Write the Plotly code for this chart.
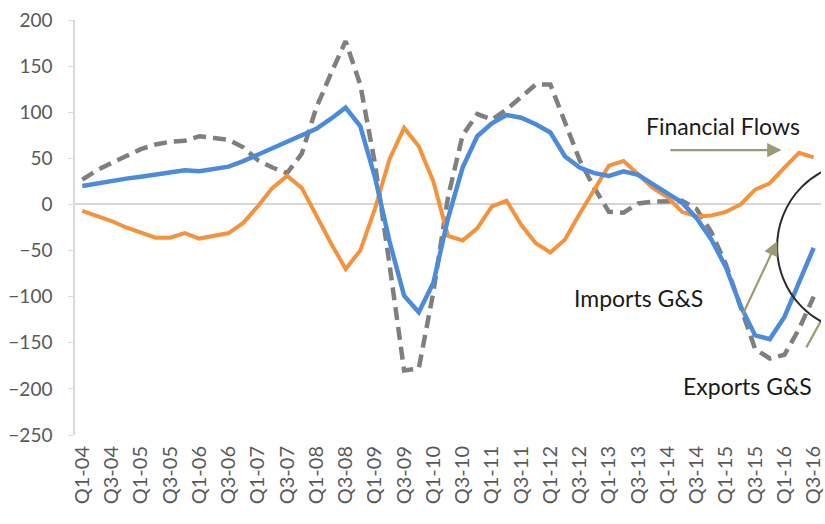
import plotly.graph_objects as go

quarters = []
for yr in range(4, 17):
    for q in range(1, 5):
        quarters.append(f"Q{q}-{yr:02d}")
quarters = quarters[:51]  # Q1-04 .. Q3-16

financial_flows = [-7, -12, -18, -25, -31, -36, -36, -31, -37, -34,
                   -31, -20, -2, 18, 31, 18, -13, -42, -70, -50,
                   -5, 49, 83, 63, 25, -34, -39, -26, -2, 4,
                   -22, -42, -52, -38, -10, 15, 42, 47, 32, 18,
                   8, -8, -13, -12, -8, 0, 16, 23, 40, 56, 51]

imports_gs = [20, 23, 25, 28, 30, 32, 34, 37, 36, 38,
              41, 47, 54, 60, 67, 75, 82, 93, 105, 85,
              30, -40, -99, -117, -85, -15, 40, 74, 88, 97,
              94, 87, 78, 52, 40, 34, 31, 36, 32, 22,
              12, 2, -15, -38, -68, -110, -142, -146, -122, -85, -47]

exports_gs = [27, 37, 45, 53, 60, 65, 68, 69, 74, 72,
              70, 62, 48, 40, 34, 55, 105, 142, 177, 130,
              45, -65, -180, -178, -95, 8, 75, 98, 92, 103,
              116, 130, 130, 88, 48, 18, -8, -9, 1, 3,
              4, 4, -5, -30, -65, -112, -157, -167, -163, -135, -100]

tick_idx = list(range(0, len(quarters), 2))
tick_txt = [quarters[i] for i in tick_idx]
xs = list(range(len(quarters)))

fig = go.Figure()
fig.add_trace(go.Scatter(x=xs, y=exports_gs, mode="lines", name="Exports G&S",
                         line=dict(color="#7f7f7f", width=4.5, dash="13px,7px")))
fig.add_trace(go.Scatter(x=xs, y=financial_flows, mode="lines", name="Financial Flows",
                         line=dict(color="#F5923E", width=4)))
fig.add_trace(go.Scatter(x=xs, y=imports_gs, mode="lines", name="Imports G&S",
                         line=dict(color="#4B8BDA", width=4.5)))

arrow_col = "#9c9a72"
txt_font = dict(family="Lato", size=23, color="#1a1a1a")

fig.add_annotation(x=43.8, y=85, xref="x", yref="y", text="Financial Flows",
                   showarrow=False, font=txt_font)
fig.add_annotation(x=47.8, y=59, ax=40.1, ay=59, xref="x", yref="y", axref="x", ayref="y",
                   text="", showarrow=True, arrowhead=2, arrowsize=1.3, arrowwidth=2.2,
                   arrowcolor=arrow_col)
fig.add_annotation(x=38.0, y=-101, xref="x", yref="y", text="Imports G&S",
                   showarrow=False, font=txt_font)
fig.add_annotation(x=47.5, y=-40, ax=45.1, ay=-121, xref="x", yref="y", axref="x", ayref="y",
                   text="", showarrow=True, arrowhead=2, arrowsize=1.3, arrowwidth=2.2,
                   arrowcolor=arrow_col)
fig.add_annotation(x=45.5, y=-197, xref="x", yref="y", text="Exports G&S",
                   showarrow=False, font=txt_font)
fig.add_shape(type="line", xref="x", yref="y", x0=49.5, y0=-155, x1=51.2, y1=-106,
              line=dict(color=arrow_col, width=2.2))
fig.add_shape(type="circle", xref="x", yref="y", x0=47.5, x1=59.0, y0=-138, y1=46,
              line=dict(color="#2b2b2b", width=2))

fig.update_layout(
    width=825, height=524,
    margin=dict(l=75, r=1, t=20, b=89),
    paper_bgcolor="white", plot_bgcolor="white",
    showlegend=False,
    font=dict(family="Lato", color="#595959"),
)
fig.update_xaxes(range=[-0.5, 50.5], tickmode="array", tickvals=tick_idx, ticktext=tick_txt,
                 tickangle=-90, showgrid=False, zeroline=False, showline=False, ticks="",
                 tickfont=dict(size=20, color="#595959"), ticklabelstandoff=6,
                 ticklabeloverflow="allow")
fig.update_yaxes(range=[-250, 200], dtick=50, showgrid=False, zeroline=True,
                 zerolinecolor="#d6d6d6", zerolinewidth=2, showline=True, linecolor="#d9d9d9",
                 linewidth=1.5, ticks="outside", ticklen=5, tickcolor="#d9d9d9",
                 tickfont=dict(size=19, color="#595959"), ticklabelstandoff=12)

fig.write_html("out.html")
